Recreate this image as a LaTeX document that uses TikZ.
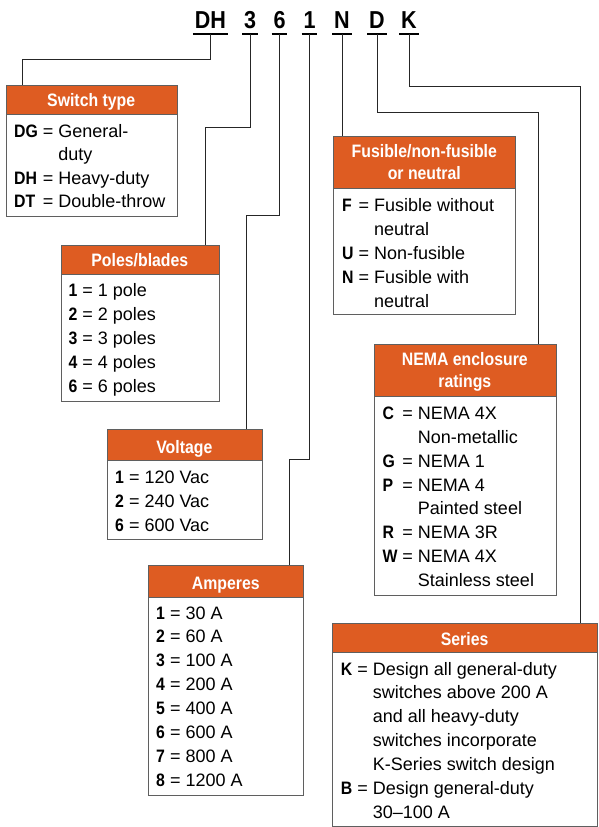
\documentclass[tikz,border=0pt]{standalone}
\usepackage{fontspec}
\setmainfont{Liberation Sans}[BoldFeatures={FakeStretch=0.88}]
\definecolor{hdr}{RGB}{222,92,34}
\definecolor{brd}{RGB}{95,95,95}
\newcommand{\keytab}{@{}l@{\hspace{5pt}}c@{\hspace{5pt}}l@{}}
\begin{document}
\begin{tikzpicture}[x=1pt,y=-1pt,
  headbox/.style={draw=brd, fill=hdr, line width=1pt, inner sep=0pt, anchor=north west},
  bodybox/.style={draw=brd, fill=white, line width=1pt, inner sep=0pt, anchor=north west},
  htext/.style={text=white, font=\fontsize{18}{21.5}\selectfont\bfseries, anchor=base, inner sep=0pt},
  btext/.style={font=\fontsize{18}{23.9}\selectfont, anchor=base west, inner sep=0pt},
  code/.style={font=\fontsize{24.5}{26}\selectfont\bfseries, anchor=base, inner xsep=1.8pt, inner ysep=0pt, text depth=5.3pt},
  uline/.style={line width=2pt, draw=black},
  wire/.style={line width=1pt, draw=black!85}]
\useasboundingbox (0,0) rectangle (598,827);
\fill[white] (0,0) rectangle (598,827);

% code letters
\node[code] (cDH) at (210.5,28) {DH};
\node[code] (c3) at (250,28) {3};
\node[code] (c6) at (279.5,28) {6};
\node[code] (c1) at (309.5,28) {1};
\node[code] (cN) at (342,28) {N};
\node[code] (cD) at (377,28) {D};
\node[code] (cK) at (409,28) {K};
\foreach \n in {cDH,c3,c6,c1,cN,cD,cK}{\draw[uline] (\n.south west) -- (\n.south east);}

% boxes
\node[bodybox, minimum width=171, minimum height=102] (bSw) at (5.7,114) {};
\node[headbox, minimum width=171, minimum height=29.3] (hSw) at (5.7,84.7) {};
\node[bodybox, minimum width=158.3, minimum height=126.7] (bPo) at (60.7,274) {};
\node[headbox, minimum width=158.3, minimum height=29.3] (hPo) at (60.7,244.7) {};
\node[bodybox, minimum width=155.3, minimum height=79] (bVo) at (106.7,460) {};
\node[headbox, minimum width=155.3, minimum height=31.3] (hVo) at (106.7,428.7) {};
\node[bodybox, minimum width=155, minimum height=198.3] (bAm) at (148.3,596.7) {};
\node[headbox, minimum width=155, minimum height=32] (hAm) at (148.3,564.7) {};
\node[bodybox, minimum width=182, minimum height=125.7] (bFu) at (333.3,188.3) {};
\node[headbox, minimum width=182, minimum height=52.3] (hFu) at (333.3,136) {};
\node[bodybox, minimum width=181.7, minimum height=199] (bNe) at (374,396) {};
\node[headbox, minimum width=181.7, minimum height=52] (hNe) at (374,344) {};
\node[bodybox, minimum width=264.7, minimum height=173.2] (bSe) at (332.3,652.3) {};
\node[headbox, minimum width=264.7, minimum height=29] (hSe) at (332.3,623.3) {};

% header texts
\node[htext] (tSw) at (91.2,106) {Switch type};
\node[htext] (tPo) at (139.85,266) {Poles/blades};
\node[htext] (tVo) at (184.35,453.3) {Voltage};
\node[htext] (tAm) at (225.8,589) {Amperes};
\node[htext] (tFu1) at (424.3,157.7) {Fusible/non-fusible};
\node[htext] (tFu2) at (424.3,179.5) {or neutral};
\node[htext] (tNe1) at (464.85,365.7) {NEMA enclosure};
\node[htext] (tNe2) at (464.85,387.3) {ratings};
\node[htext] (tSe) at (464.65,645) {Series};

% body texts
\node[btext, font=\fontsize{18}{23.4}\selectfont] (xSw) at (14,137.3) {\begin{tabular}[t]{\keytab}
\textbf{DG} & = & General-\\ & & duty\\ \textbf{DH} & = & Heavy-duty\\ \textbf{DT} & = & Double-throw\end{tabular}};
\node[btext] (xPo) at (68.3,296.7) {\begin{tabular}[t]{\keytab}
\textbf{1} & = & 1 pole\\ \textbf{2} & = & 2 poles\\ \textbf{3} & = & 3 poles\\ \textbf{4} & = & 4 poles\\ \textbf{6} & = & 6 poles\end{tabular}};
\node[btext] (xVo) at (115,483.3) {\begin{tabular}[t]{\keytab}
\textbf{1} & = & 120 Vac\\ \textbf{2} & = & 240 Vac\\ \textbf{6} & = & 600 Vac\end{tabular}};
\node[btext] (xAm) at (156,619) {\begin{tabular}[t]{\keytab}
\textbf{1} & = & 30 A\\ \textbf{2} & = & 60 A\\ \textbf{3} & = & 100 A\\ \textbf{4} & = & 200 A\\ \textbf{5} & = & 400 A\\ \textbf{6} & = & 600 A\\ \textbf{7} & = & 800 A\\ \textbf{8} & = & 1200 A\end{tabular}};
\node[btext] (xFu) at (342,211.7) {\begin{tabular}[t]{\keytab}
\textbf{F} & = & Fusible without\\ & & neutral\\ \textbf{U} & = & Non-fusible\\ \textbf{N} & = & Fusible with\\ & & neutral\end{tabular}};
\node[btext] (xNe) at (382.3,419.3) {\begin{tabular}[t]{\keytab}
\textbf{C} & = & NEMA 4X\\ & & Non-metallic\\ \textbf{G} & = & NEMA 1\\ \textbf{P} & = & NEMA 4\\ & & Painted steel\\ \textbf{R} & = & NEMA 3R\\ \textbf{W} & = & NEMA 4X\\ & & Stainless steel\end{tabular}};
\node[btext] (xSe) at (340.7,675) {\begin{tabular}[t]{\keytab}
\textbf{K} & = & Design all general-duty\\ & & switches above 200 A\\ & & and all heavy-duty\\ & & switches incorporate\\ & & K-Series switch design\\ \textbf{B} & = & Design general-duty\\ & & 30--100 A\end{tabular}};

% connectors
\coordinate (kDH) at (22,59.3);
\coordinate (k3) at (205.7,127.3);
\coordinate (k6) at (246.3,215);
\coordinate (k1) at (289.3,459.3);
\coordinate (kD) at (538.7,112.7);
\coordinate (kK) at (580.7,86.7);
\draw[wire] (cDH.south) |- (kDH) -- (kDH |- hSw.north);
\draw[wire] (c3.south) |- (k3) -- (k3 |- hPo.north);
\draw[wire] (c6.south) |- (k6) -- (k6 |- hVo.north);
\draw[wire] (c1.south) |- (k1) -- (k1 |- hAm.north);
\draw[wire] (cN.south) -- (cN.south |- hFu.north);
\draw[wire] (cD.south) |- (kD) -- (kD |- hNe.north);
\draw[wire] (cK.south) |- (kK) -- (kK |- hSe.north);
\end{tikzpicture}
\end{document}
